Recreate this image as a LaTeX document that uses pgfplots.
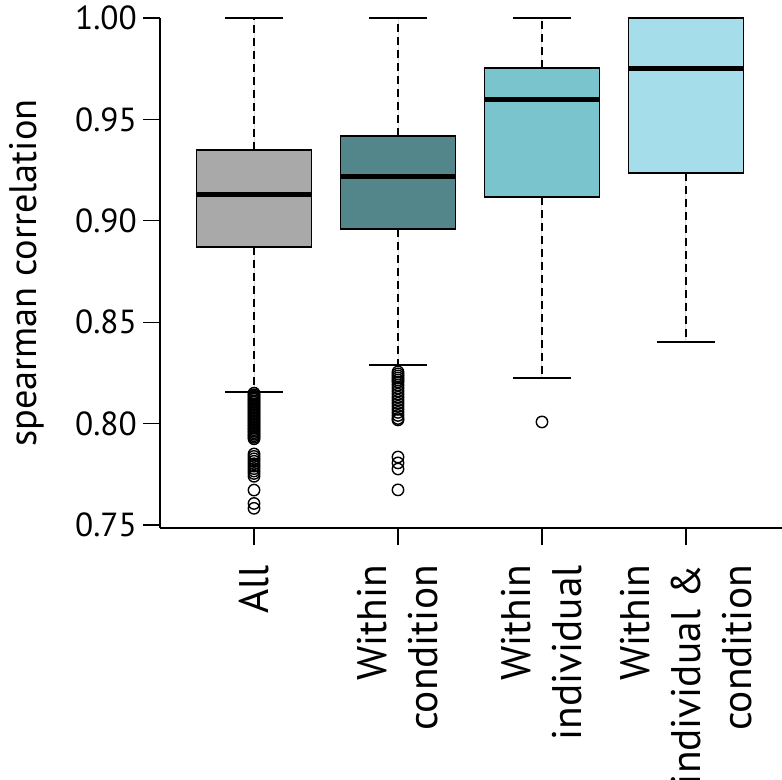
\documentclass[border=0pt]{standalone}
\usepackage{fontspec}
\setmainfont{PT Sans}
\usepackage{pgfplots}
\pgfplotsset{compat=1.18}
\usepgfplotslibrary{statistics}

\definecolor{c1}{HTML}{A9A9A9}
\definecolor{c2}{HTML}{53868B}
\definecolor{c3}{HTML}{7AC5CD}
\definecolor{c4}{HTML}{A6DDEA}

\pgfplotsset{
  boxplot/draw direction=y,
  boxplot/draw/lower whisker/.code={
    \draw[black, line width=1.5bp, dash pattern=on 8bp off 5bp]
      (boxplot box cs:\pgfplotsboxplotvalue{lower quartile},0.5)
      -- (boxplot box cs:\pgfplotsboxplotvalue{lower whisker},0.5);
    \draw[black, line width=1.5bp, solid]
      (boxplot whisker cs:\pgfplotsboxplotvalue{lower whisker},0)
      -- (boxplot whisker cs:\pgfplotsboxplotvalue{lower whisker},1);
  },
  boxplot/draw/upper whisker/.code={
    \draw[black, line width=1.5bp, dash pattern=on 8bp off 5bp]
      (boxplot box cs:\pgfplotsboxplotvalue{upper quartile},0.5)
      -- (boxplot box cs:\pgfplotsboxplotvalue{upper whisker},0.5);
    \draw[black, line width=1.5bp, solid]
      (boxplot whisker cs:\pgfplotsboxplotvalue{upper whisker},0)
      -- (boxplot whisker cs:\pgfplotsboxplotvalue{upper whisker},1);
  },
  boxplot/every median/.style={line width=5bp, black},
  boxplot/every box/.style={draw=black, line width=1.5bp},
  myplot/.style={draw=black, line width=1.5bp, solid, mark=o, mark size=5.7bp,
    mark options={black, solid, line width=1.4bp, fill=none}},
}

\begin{document}
\begin{tikzpicture}
\useasboundingbox (-160bp,-252bp) rectangle (622bp,528bp);
\begin{axis}[
  at={(0,0)}, anchor=south west,
  scale only axis, width=622bp, height=510bp,
  xmin=0.347, xmax=4.667, ymin=0.7485, ymax=1.0,
  axis lines=left, axis line style={-, line width=1.3bp, black},
  clip=false,
  xtick={1,2,3,4},
  xticklabels={All, Within\\condition, Within\\individual, Within\\individual \&\\condition},
  ytick={0.75,0.80,0.85,0.90,0.95,1.00},
  /pgf/number format/assume math mode=true,
  yticklabel={\pgfmathprintnumber[fixed,fixed zerofill,precision=2]{\tick}},
  tick align=outside, major tick length=17bp,
  tick style={line width=1.3bp, black},
  yticklabel style={font=\fontsize{33.5}{40}\selectfont, anchor=east, inner sep=0pt, xshift=-6bp},
  xticklabel style={font=\fontsize{41.5}{51}\selectfont, rotate=90, anchor=east, align=right, inner sep=0pt, xshift=-20bp},
  ylabel={spearman correlation},
  ylabel style={font=\fontsize{38.5}{44}\selectfont, at={(axis description cs:0,0.5)}, anchor=center, yshift=133bp},
]
\addplot[myplot, fill=c1, boxplot prepared={draw position=1,
  lower whisker=0.8156, lower quartile=0.8871, median=0.9132,
  upper quartile=0.9349, upper whisker=1.0, box extend=0.8, whisker extend=0.4}]
  table[row sep=\\, y index=0] {
0.8150\\0.8142\\0.8135\\0.8127\\0.8120\\0.8112\\0.8105\\0.8097\\0.8090\\0.8082\\
0.8075\\0.8067\\0.8060\\0.8052\\0.8045\\0.8037\\0.8030\\0.8022\\0.8015\\0.8007\\
0.8000\\0.7992\\0.7985\\0.7977\\0.7970\\0.7962\\0.7955\\0.7947\\0.7940\\0.7932\\0.7925\\
0.7850\\0.7838\\0.7826\\0.7814\\0.7802\\0.7790\\0.7778\\0.7766\\0.7754\\0.7740\\
0.7672\\0.7606\\0.7582\\
};
\addplot[myplot, fill=c2, boxplot prepared={draw position=2,
  lower whisker=0.8289, lower quartile=0.8960, median=0.9216,
  upper quartile=0.9418, upper whisker=1.0, box extend=0.8, whisker extend=0.4}]
  table[row sep=\\, y index=0] {
0.8255\\0.8245\\0.8235\\0.8225\\0.8215\\0.8205\\0.8190\\0.8175\\0.8160\\0.8145\\
0.8130\\0.8115\\0.8100\\0.8085\\0.8070\\0.8055\\0.8040\\0.8025\\0.8018\\
0.7835\\0.7806\\0.7776\\0.7673\\
};
\addplot[myplot, fill=c3, boxplot prepared={draw position=3,
  lower whisker=0.8225, lower quartile=0.9117, median=0.9596,
  upper quartile=0.9753, upper whisker=1.0, box extend=0.8, whisker extend=0.4}]
  table[row sep=\\, y index=0] {
0.8008\\
};
\addplot[myplot, fill=c4, boxplot prepared={draw position=4,
  lower whisker=0.8402, lower quartile=0.9236, median=0.9753,
  upper quartile=1.0, upper whisker=1.0, box extend=0.8, whisker extend=0.4}]
  coordinates {};
\end{axis}
\end{tikzpicture}
\end{document}
